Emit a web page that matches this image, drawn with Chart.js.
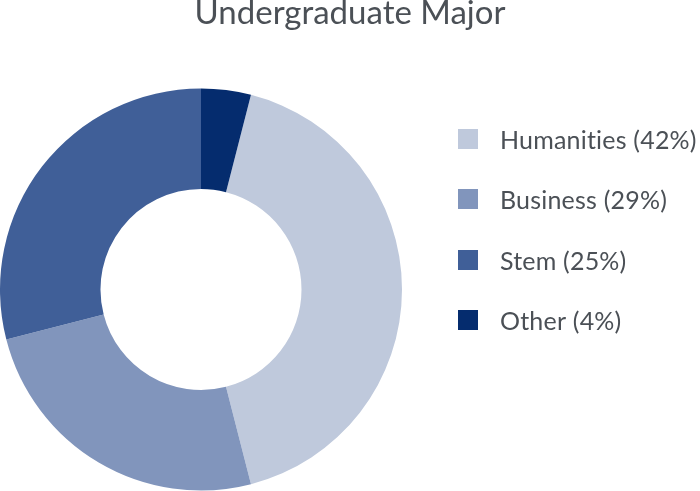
<!DOCTYPE html>
<html>
<head>
<meta charset="utf-8">
<script src="https://cdn.jsdelivr.net/npm/chart.js@4"></script>
<style>
    html, body { margin: 0; padding: 0; background: #fff; }
    #wrap { width: 700px; height: 491px; }
</style>
</head>
<body>
<div id="wrap"><canvas id="majorChart"></canvas></div>
<script>
// Data
const categories = ['Humanities', 'Business', 'Stem', 'Other'];
const legendLabels = ['Humanities (42%)', 'Business (29%)', 'Stem (25%)', 'Other (4%)'];
const shares = [42, 25, 29, 4];
const colors = ['#bfc9dc', '#8195bc', '#405f98', '#052c6e'];
const chartTitle = 'Undergraduate Major';

const textColor = '#4b5056';
const total = shares.reduce((a, b) => a + b, 0);

// Title across the full width + legend on the right
const sideLegend = {
    id: 'sideLegend',
    afterDraw(chart) {
        const { ctx, chartArea, width } = chart;
        ctx.save();
        ctx.fillStyle = textColor;
        ctx.textBaseline = 'alphabetic';
        ctx.textAlign = 'center';
        ctx.font = '33px Lato';
        ctx.fillText(chartTitle, width / 2, 24);

        const x = chartArea.right + 56;
        ctx.textAlign = 'left';
        ctx.font = '25px Lato';
        ctx.letterSpacing = '0.2px'; // also keeps "ti" from joining
        legendLabels.forEach((label, i) => {
            const y = Math.round(129 + i * 60.3);
            ctx.fillStyle = colors[i];
            ctx.fillRect(x, y, 20, 20);
            ctx.fillStyle = textColor;
            ctx.fillText(label, x + 42, y + 20);
        });
        ctx.restore();
    }
};

const ctx = document.getElementById('majorChart').getContext('2d');
new Chart(ctx, {
    type: 'doughnut',
    data: {
        labels: categories,
        datasets: [{
            data: shares,
            backgroundColor: colors,
            borderWidth: 0
        }]
    },
    options: {
        responsive: true,
        maintainAspectRatio: false,
        animation: false,
        cutout: '50%',
        // last slice (Other) sits just left of 12 o'clock
        rotation: shares[3] / total * 360,
        layout: {
            padding: { top: 88, right: 298 }
        },
        plugins: {
            legend: { display: false },
            tooltip: { enabled: false },
            title: { display: false }
        }
    },
    plugins: [sideLegend]
});
</script>
</body>
</html>
